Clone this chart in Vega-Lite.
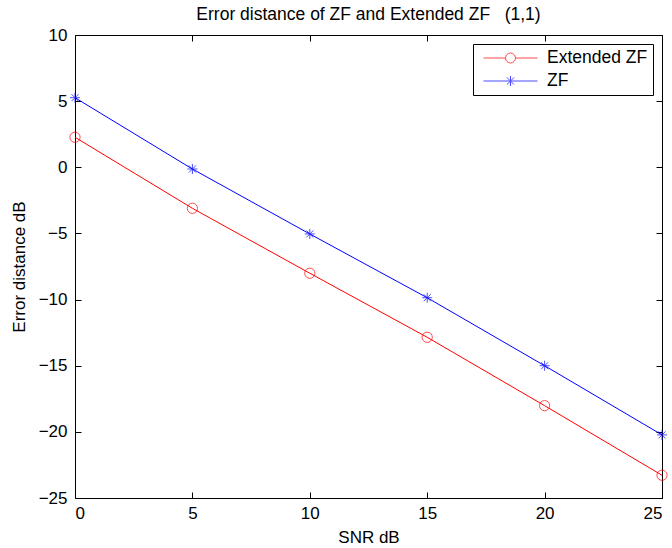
{
  "$schema": "https://vega.github.io/schema/vega-lite/v6.json",
  "autosize": {"type": "none"},
  "padding": {"left": 75, "top": 35, "right": 10, "bottom": 50},
  "width": 587,
  "height": 463,
  "background": "white",
  "title": {
    "text": "Error distance of ZF and Extended ZF\u00a0\u00a0\u00a0(1,1)",
    "font": "Liberation Sans",
    "fontSize": 17.5,
    "fontWeight": "normal",
    "color": "black",
    "offset": 3
  },
  "config": {
    "view": {"stroke": "black", "strokeWidth": 1},
    "axis": {
      "labelFont": "Liberation Sans",
      "labelFontSize": 17,
      "labelColor": "black",
      "titleFont": "Liberation Sans",
      "titleFontSize": 17,
      "titleFontWeight": "normal",
      "titleColor": "black",
      "grid": false,
      "domainColor": "black",
      "tickColor": "black",
      "tickSize": -6,
      "labelPadding": 13
    },
    "legend": {
      "labelFont": "Liberation Sans",
      "labelFontSize": 17.5,
      "labelColor": "black"
    }
  },
  "data": {
    "values": [
      {"snr": 0, "err": 2.27, "series": "Extended ZF"},
      {"snr": 5, "err": -3.1, "series": "Extended ZF"},
      {"snr": 10, "err": -8.01, "series": "Extended ZF"},
      {"snr": 15, "err": -12.85, "series": "Extended ZF"},
      {"snr": 20, "err": -18.02, "series": "Extended ZF"},
      {"snr": 25, "err": -23.28, "series": "Extended ZF"},
      {"snr": 0, "err": 5.26, "series": "ZF"},
      {"snr": 5, "err": -0.13, "series": "ZF"},
      {"snr": 10, "err": -5.04, "series": "ZF"},
      {"snr": 15, "err": -9.86, "series": "ZF"},
      {"snr": 20, "err": -15.0, "series": "ZF"},
      {"snr": 25, "err": -20.23, "series": "ZF"}
    ]
  },
  "layer": [
    {
      "mark": {"type": "line", "strokeWidth": 1},
      "encoding": {
        "x": {
          "field": "snr", "type": "quantitative",
          "scale": {"domain": [0, 25], "nice": false, "zero": false},
          "axis": {"orient": "bottom", "title": "SNR dB", "values": [0, 5, 10, 15, 20, 25], "titlePadding": 8, "domain": false}
        },
        "y": {
          "field": "err", "type": "quantitative",
          "scale": {"domain": [-25, 10], "nice": false, "zero": false},
          "axis": {"orient": "left", "title": "Error distance dB", "values": [-25, -20, -15, -10, -5, 0, 5, 10], "titlePadding": 10, "domain": false, "labelPadding": 14}
        },
        "color": {
          "field": "series", "type": "nominal",
          "scale": {"domain": ["Extended ZF", "ZF"], "range": ["#ff0000", "#0000ff"]},
          "legend": {
            "title": null,
            "orient": "top-right",
            "offset": 9,
            "fillColor": "white",
            "strokeColor": "black",
            "padding": 5,
            "symbolSize": 4096,
            "symbolStrokeWidth": 1,
            "clipHeight": 18,
            "rowPadding": 5,
            "labelOffset": 4,
            "labelFontSize": 17.5
          }
        }
      }
    },
    {
      "mark": {"type": "point", "filled": false, "strokeWidth": 1, "size": 0},
      "encoding": {
        "x": {
          "field": "snr", "type": "quantitative",
          "axis": {"orient": "top", "title": null, "labels": false, "values": [0, 5, 10, 15, 20, 25], "domain": false}
        },
        "y": {
          "field": "err", "type": "quantitative",
          "axis": {"orient": "right", "title": null, "labels": false, "values": [-25, -20, -15, -10, -5, 0, 5, 10], "domain": false}
        },
        "color": {
          "field": "series", "type": "nominal"
        },
        "shape": {
          "field": "series", "type": "nominal",
          "scale": {"domain": ["Extended ZF", "ZF"], "range": ["M-0.844,0L-0.156,0M0.156,0L0.844,0M-0.156,0A0.156,0.156,0,1,0,0.156,0A0.156,0.156,0,1,0,-0.156,0", "M-0.844,0L0.844,0M0,-0.156L0,0.156M-0.11,-0.11L0.11,0.11M-0.11,0.11L0.11,-0.11"]}
        }
      }
    },
    {
      "transform": [{"filter": "datum.series === 'Extended ZF'"}],
      "mark": {"type": "point", "filled": false, "strokeWidth": 1, "size": 105, "shape": "circle", "color": "#ff0000"},
      "encoding": {
        "x": {"field": "snr", "type": "quantitative", "axis": null},
        "y": {"field": "err", "type": "quantitative", "axis": null}
      }
    },
    {
      "transform": [{"filter": "datum.series === 'ZF'"}],
      "mark": {"type": "point", "filled": false, "strokeWidth": 1, "size": 100, "shape": "M-1,0L1,0M0,-1L0,1M-0.7,-0.7L0.7,0.7M-0.7,0.7L0.7,-0.7", "color": "#0000ff"},
      "encoding": {
        "x": {"field": "snr", "type": "quantitative", "axis": null},
        "y": {"field": "err", "type": "quantitative", "axis": null}
      }
    }
  ],
  "resolve": {"axis": {"x": "independent", "y": "independent"}}
}
